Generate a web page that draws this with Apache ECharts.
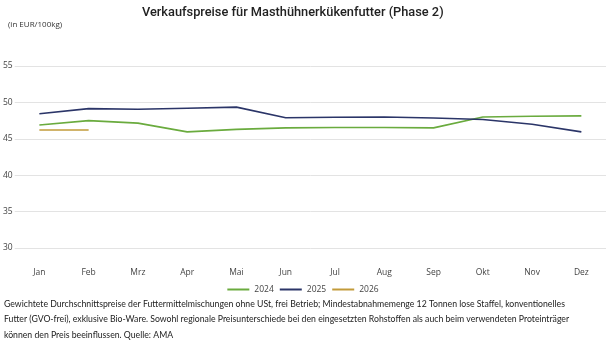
<!DOCTYPE html>
<html><head><meta charset="utf-8">
<script src="https://cdn.jsdelivr.net/npm/echarts@6/dist/echarts.min.js"></script>
<style>html,body{margin:0;padding:0;background:#fff}#c{width:606px;height:342px}</style>
</head><body><div id="c"></div>
<script>
const categories = ['Jan','Feb','Mrz','Apr','Mai','Jun','Jul','Aug','Sep','Okt','Nov','Dez'];
const s2024 = [46.9,47.5,47.15,45.95,46.3,46.5,46.55,46.55,46.5,48.0,48.1,48.15];
const s2025 = [48.45,49.15,49.05,49.2,49.35,47.9,47.95,48.0,47.85,47.65,47.0,45.95];
const s2026 = [46.2,46.2];
const yTicks = [30,35,40,45,50,55];
const footnote = 'Gewichtete Durchschnittspreise der Futtermittelmischungen ohne USt, frei Betrieb; Mindestabnahmemenge 12 Tonnen lose Staffel, konventionelles\nFutter (GVO-frei), exklusive Bio-Ware. Sowohl regionale Preisunterschiede bei den eingesetzten Rohstoffen als auch beim verwendeten Proteinträger\nkönnen den Preis beeinflussen. Quelle: AMA';

const chart = echarts.init(document.getElementById('c'), null, {renderer:'canvas'});
const mk = (name, data, color) => ({
  name, type:'line', data, symbol:'none', smooth:false,
  lineStyle:{width:1.6, color}, itemStyle:{color}
});
chart.setOption({
  animation:false,
  title:[
    {text:'Verkaufspreise für Masthühnerkükenfutter (Phase 2)', left:137, top:1,
     textStyle:{fontFamily:'Roboto', fontSize:12.8, fontWeight:500, color:'#222'}},
    {text:'(in EUR/100kg)', left:3, top:16,
     textStyle:{fontFamily:'Open Sans', fontSize:8, fontWeight:'normal', color:'#333'}}
  ],
  legend:{data:['2024','2025','2026'], bottom:43, left:'center', itemWidth:22, itemHeight:2, itemGap:6,
    icon:'rect', textStyle:{fontFamily:'Open Sans', fontSize:8.5, color:'#444'}},
  grid:{left:13, right:0, top:66, bottom:94, containLabel:false},
  xAxis:{type:'category', data:categories, boundaryGap:true,
    axisLine:{show:false}, axisTick:{show:false},
    axisLabel:{margin:20, fontFamily:'Open Sans', fontSize:8.5, color:'#444'}},
  yAxis:{type:'value', min:yTicks[0], max:yTicks[yTicks.length-1], interval:5,
    axisLabel:{margin:2, fontFamily:'Open Sans', fontSize:8.5, color:'#444', align:'right'},
    splitLine:{lineStyle:{color:'#e3e3e3', width:1}}, axisLine:{show:false}, axisTick:{show:false}},
  series:[mk('2024', s2024, '#6aab3e'), mk('2025', s2025, '#2b3568'), mk('2026', s2026, '#c29b3a')],
  graphic:[{type:'text', left:4, top:296, style:{text:footnote, fontFamily:'Lato', fontSize:8.7, lineHeight:15.5, fill:'#222'}}]
});
</script></body></html>
